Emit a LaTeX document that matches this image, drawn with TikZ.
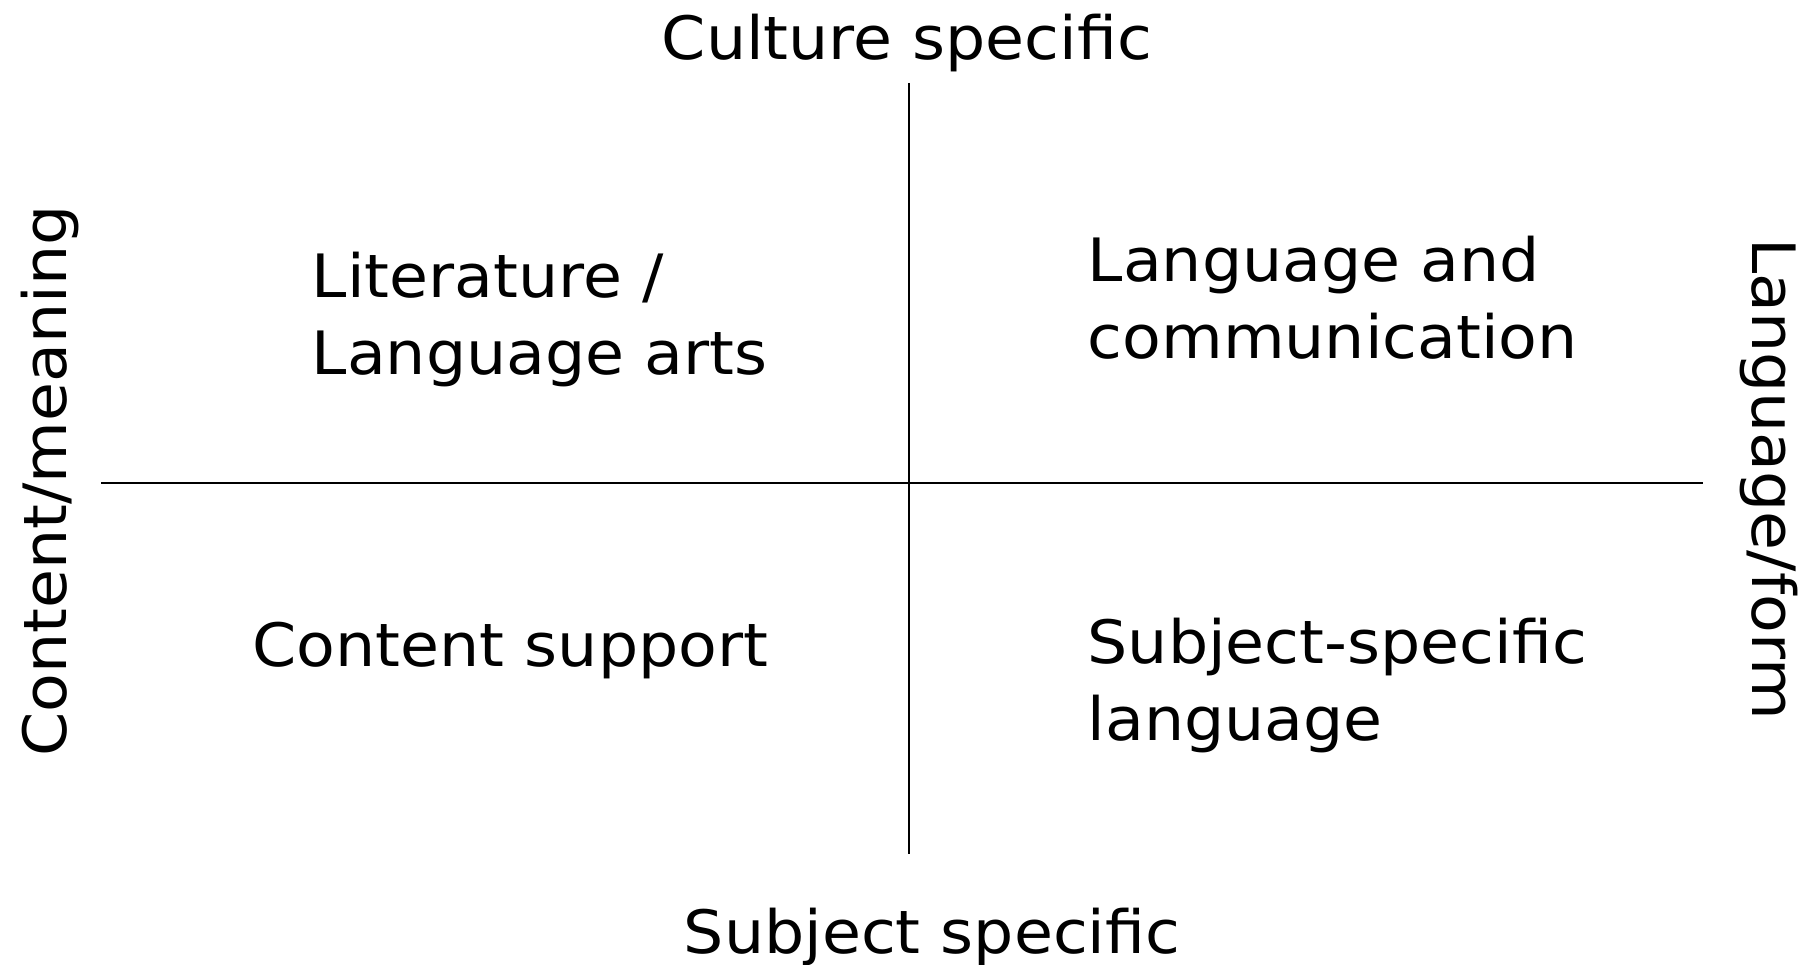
\documentclass[tikz,border=0pt]{standalone}
\usepackage{fontspec}
\setmainfont{DejaVu Sans}[FakeStretch=1.06]
\usepackage{tikz}

\begin{document}
\begin{tikzpicture}[
    x=0.01cm, y=-0.01cm,
    axis/.style={draw, line width=0.6pt},
    pole/.style={font=\fontsize{17}{21.9}\selectfont, inner sep=0pt, anchor=base},
    field/.style={font=\fontsize{17}{21.9}\selectfont, inner sep=0pt, anchor=base west, align=left}
]
\useasboundingbox (0,0) rectangle (1809,965);
% axis ends
\coordinate (top) at (909,83);
\coordinate (bottom) at (909,854);
\coordinate (left) at (101,483);
\coordinate (right) at (1703,483);
\draw[axis] (top) -- (bottom);
\draw[axis] (left) -- (right);
% poles
\node[pole] (culture) at (907,60) {Culture specific};
\node[pole] (subject) at (932,954) {Subject specific};
\node[pole, rotate=90] (content) at (67,481) {Content/meaning};
\node[pole, rotate=-90] (form) at (1752,479) {Language/form};
% quadrants (base = last line)
\node[field] (lit) at (311,375) {Literature /\\Language arts};
\node[field] (comm) at (1087,359) {Language and\\communication};
\node[field] (support) at (252,667) {Content support};
\node[field] (ssl) at (1087,741) {Subject-specific\\language};
\end{tikzpicture}
\end{document}
